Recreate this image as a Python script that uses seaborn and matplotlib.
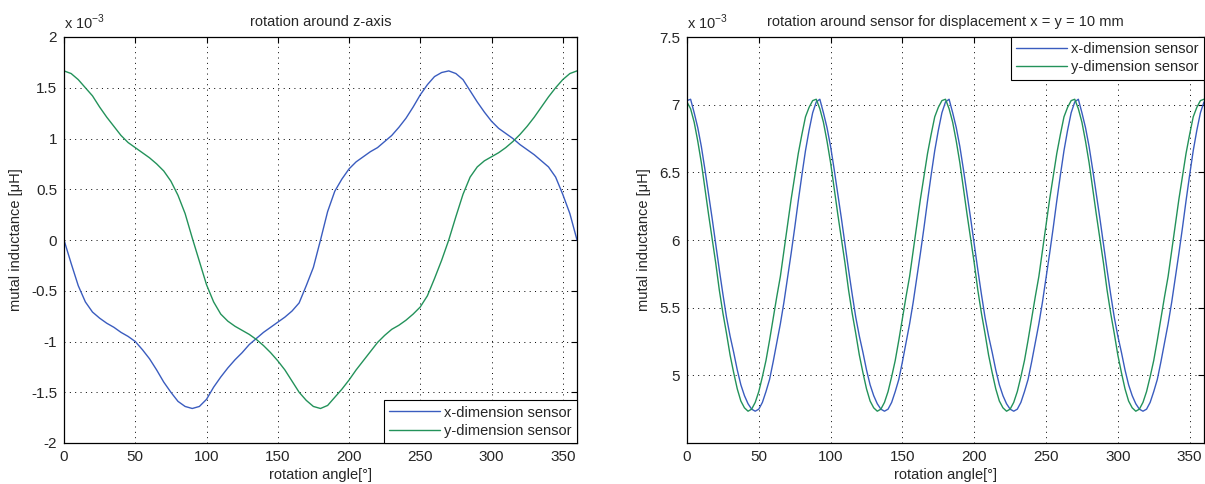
import numpy as np
import matplotlib
matplotlib.use("Agg")
import matplotlib.pyplot as plt
import seaborn as sns

# Winkel in Grad: links alle 5°, rechts alle 2.5°
angle = np.arange(0, 361, 5)
angle_fine = np.arange(0, 360.1, 2.5)

# Links: Drehung um die z-Achse (Werte in 1e-3 µH)
z_x_sensor = [
    0.0, -0.23, -0.45, -0.61, -0.71, -0.77, -0.82, -0.86, -0.91, -0.95,
    -1.0, -1.08, -1.17, -1.28, -1.40, -1.50, -1.59, -1.64, -1.66, -1.64,
    -1.57, -1.45, -1.35, -1.26, -1.18, -1.11, -1.03, -0.97, -0.91, -0.86,
    -0.81, -0.76, -0.70, -0.62, -0.45, -0.27, 0.0, 0.28, 0.48, 0.60,
    0.70, 0.77, 0.82, 0.87, 0.91, 0.97, 1.03, 1.11, 1.20, 1.31,
    1.43, 1.53, 1.61, 1.65, 1.666, 1.64, 1.58, 1.47, 1.36, 1.26,
    1.17, 1.10, 1.05, 1.00, 0.94, 0.89, 0.84, 0.78, 0.72, 0.62,
    0.45, 0.26, 0.0,
]
z_y_sensor = [
    1.666, 1.64, 1.58, 1.50, 1.42, 1.31, 1.21, 1.12, 1.03, 0.96,
    0.91, 0.86, 0.81, 0.75, 0.68, 0.58, 0.44, 0.26, 0.02, -0.21,
    -0.44, -0.61, -0.73, -0.80, -0.85, -0.89, -0.93, -0.98, -1.04, -1.11,
    -1.19, -1.28, -1.39, -1.50, -1.58, -1.64, -1.66, -1.63, -1.55, -1.47,
    -1.38, -1.28, -1.19, -1.10, -1.01, -0.94, -0.88, -0.84, -0.79, -0.73,
    -0.66, -0.55, -0.38, -0.20, 0.0, 0.23, 0.45, 0.62, 0.72, 0.78,
    0.82, 0.86, 0.91, 0.97, 1.04, 1.12, 1.21, 1.31, 1.41, 1.50,
    1.58, 1.64, 1.666,
]

# Rechts: Drehung um den Sensor bei Verschiebung x = y = 10 mm
s_x_sensor = [
    7.03, 7.04, 6.94, 6.83, 6.69, 6.52, 6.34, 6.16, 5.97, 5.78,
    5.60, 5.43, 5.29, 5.17, 5.04, 4.93, 4.85, 4.79, 4.75, 4.735,
    4.75, 4.80, 4.88, 4.97, 5.10, 5.24, 5.38, 5.54, 5.72, 5.90,
    6.09, 6.29, 6.48, 6.66, 6.81, 6.94, 7.02,
    7.04, 6.94, 6.83, 6.69, 6.52, 6.34, 6.16, 5.97, 5.78,
    5.60, 5.43, 5.29, 5.17, 5.04, 4.93, 4.85, 4.79, 4.75, 4.735,
    4.75, 4.80, 4.88, 4.97, 5.10, 5.24, 5.38, 5.54, 5.72, 5.90,
    6.09, 6.29, 6.48, 6.66, 6.81, 6.94, 7.02,
    7.04, 6.94, 6.83, 6.69, 6.52, 6.34, 6.16, 5.97, 5.78,
    5.60, 5.43, 5.29, 5.17, 5.04, 4.93, 4.85, 4.79, 4.75, 4.735,
    4.75, 4.80, 4.88, 4.97, 5.10, 5.24, 5.38, 5.54, 5.72, 5.90,
    6.09, 6.29, 6.48, 6.66, 6.81, 6.94, 7.02,
    7.04, 6.94, 6.83, 6.69, 6.52, 6.34, 6.16, 5.97, 5.78,
    5.60, 5.43, 5.29, 5.17, 5.04, 4.93, 4.85, 4.79, 4.75, 4.735,
    4.75, 4.80, 4.88, 4.97, 5.10, 5.24, 5.38, 5.54, 5.72, 5.90,
    6.09, 6.29, 6.48, 6.66, 6.81, 6.94, 7.02,
]
s_y_sensor = [
    7.02, 6.97, 6.87, 6.73, 6.57, 6.38, 6.19, 6.01, 5.83, 5.63,
    5.46, 5.31, 5.15, 5.02, 4.90, 4.81, 4.76, 4.735, 4.75, 4.80,
    4.88, 4.99, 5.11, 5.26, 5.42, 5.58, 5.73, 5.92, 6.11, 6.30,
    6.47, 6.64, 6.78, 6.91, 6.98, 7.03, 7.04,
    6.97, 6.87, 6.73, 6.57, 6.38, 6.19, 6.01, 5.83, 5.63,
    5.46, 5.31, 5.15, 5.02, 4.90, 4.81, 4.76, 4.735, 4.75, 4.80,
    4.88, 4.99, 5.11, 5.26, 5.42, 5.58, 5.73, 5.92, 6.11, 6.30,
    6.47, 6.64, 6.78, 6.91, 6.98, 7.03, 7.04,
    6.97, 6.87, 6.73, 6.57, 6.38, 6.19, 6.01, 5.83, 5.63,
    5.46, 5.31, 5.15, 5.02, 4.90, 4.81, 4.76, 4.735, 4.75, 4.80,
    4.88, 4.99, 5.11, 5.26, 5.42, 5.58, 5.73, 5.92, 6.11, 6.30,
    6.47, 6.64, 6.78, 6.91, 6.98, 7.03, 7.04,
    6.97, 6.87, 6.73, 6.57, 6.38, 6.19, 6.01, 5.83, 5.63,
    5.46, 5.31, 5.15, 5.02, 4.90, 4.81, 4.76, 4.735, 4.75, 4.80,
    4.88, 4.99, 5.11, 5.26, 5.42, 5.58, 5.73, 5.92, 6.11, 6.30,
    6.47, 6.64, 6.78, 6.91, 6.98, 7.03, 7.04,
]

x_ticks = [0, 50, 100, 150, 200, 250, 300, 350]
left_yticks = [-2, -1.5, -1, -0.5, 0, 0.5, 1, 1.5, 2]
left_ylabels = ["-2", "-1.5", "-1", "-0.5", "0", "0.5", "1", "1.5", "2"]
right_yticks = [5, 5.5, 6, 6.5, 7, 7.5]
right_ylabels = ["5", "5.5", "6", "6.5", "7", "7.5"]

BLUE = "#3a5cbf"
GREEN = "#23925a"

sns.set_style("white")
plt.rcParams["font.family"] = ["Liberation Sans", "DejaVu Sans"]
plt.rcParams["axes.unicode_minus"] = False
FS = 10.5

fig = plt.figure(figsize=(12.05, 4.84), dpi=100)
W, H = 1205, 484
ax1 = fig.add_axes([64 / W, 41 / H, 513 / W, 406 / H])
ax2 = fig.add_axes([687 / W, 41 / H, 517 / W, 406 / H])


def style_axes(ax, yticks, ylabels, ylim, title):
    ax.set_xlim(0, 360)
    ax.set_ylim(*ylim)
    ax.set_xticks(x_ticks)
    ax.set_xticklabels([str(t) for t in x_ticks], fontsize=FS + 0.5)
    ax.set_yticks(yticks)
    ax.set_yticklabels(ylabels, fontsize=FS + 0.5)
    ax.grid(True, color="black", linestyle=(0, (1, 4.5)), linewidth=0.7)
    ax.set_axisbelow(True)
    ax.tick_params(direction="in", top=True, right=True, length=4,
                   width=0.8, color="black", pad=5)
    for sp in ax.spines.values():
        sp.set_color("black")
        sp.set_linewidth(0.9)
    ax.set_title(title, fontsize=FS, pad=8)
    ax.set_xlabel("rotation angle[°]", fontsize=FS, labelpad=3)
    ax.set_ylabel("mutal inductance [μH]", fontsize=FS, labelpad=6)
    ax.text(0.0, 1.012, r"x 10$^{\mathregular{-3}}$", transform=ax.transAxes,
            fontsize=FS, ha="left", va="bottom")


def legend(ax, loc):
    leg = ax.legend(loc=loc, borderaxespad=0, fancybox=False,
                    edgecolor="black", framealpha=1, fontsize=FS,
                    handlelength=3.5, handletextpad=0.3, borderpad=0.35,
                    labelspacing=0.3)
    leg.get_frame().set_linewidth(0.8)


# linke Grafik
sns.lineplot(x=angle, y=z_x_sensor, ax=ax1, color=BLUE, linewidth=1.0,
             label="x-dimension sensor")
sns.lineplot(x=angle, y=z_y_sensor, ax=ax1, color=GREEN, linewidth=1.0,
             label="y-dimension sensor")
style_axes(ax1, left_yticks, left_ylabels, (-2, 2), "rotation around z-axis")
legend(ax1, "lower right")

# rechte Grafik
sns.lineplot(x=angle_fine, y=s_x_sensor, ax=ax2, color=BLUE, linewidth=1.0,
             label="x-dimension sensor")
sns.lineplot(x=angle_fine, y=s_y_sensor, ax=ax2, color=GREEN, linewidth=1.0,
             label="y-dimension sensor")
style_axes(ax2, right_yticks, right_ylabels, (4.5, 7.5),
           "rotation around sensor for displacement x = y = 10 mm")
legend(ax2, "upper right")

fig.savefig("out.png", dpi=100)
